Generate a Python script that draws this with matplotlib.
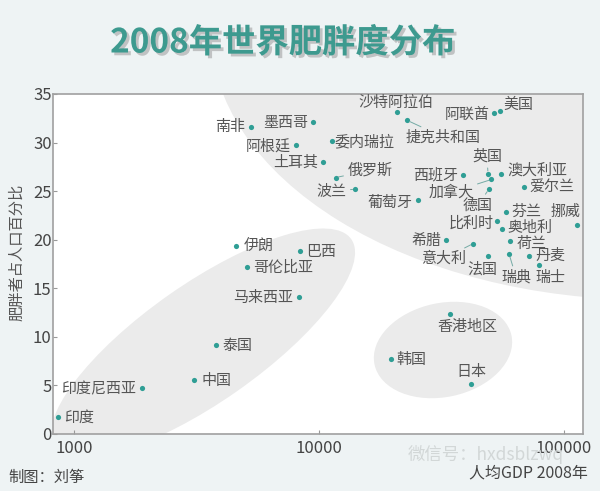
import matplotlib
matplotlib.use("Agg")
import matplotlib.pyplot as plt
import matplotlib.patheffects as pe
from matplotlib.patches import Ellipse
from matplotlib.transforms import Affine2D

plt.rcParams['font.family'] = ['Noto Sans CJK SC', 'DejaVu Sans']

# 1. Data
countries = ['南非', '墨西哥', '阿根廷', '委内瑞拉', '土耳其', '俄罗斯', '波兰',
             '沙特阿拉伯', '捷克共和国', '阿联酋', '美国', '西班牙', '英国', '澳大利亚',
             '加拿大', '德国', '爱尔兰', '葡萄牙', '芬兰', '挪威', '比利时', '奥地利',
             '希腊', '意大利', '荷兰', '法国', '瑞典', '丹麦', '瑞士',
             '伊朗', '巴西', '哥伦比亚', '马来西亚', '泰国', '中国', '印度尼西亚', '印度',
             '香港地区', '韩国', '日本']
gdp = [5300, 9500, 8100, 11300, 10400, 11700, 14100,
       20800, 22900, 51800, 54800, 38800, 49100, 55700,
       50700, 49500, 68700, 25400, 57900, 113700, 53600, 55900,
       33200, 42700, 60500, 49300, 59900, 72100, 79200,
       4600, 8400, 5100, 8300, 3800, 3100, 1900, 860,
       34300, 19800, 42000]
obesity = [31.6, 32.1, 29.7, 30.2, 28.0, 26.4, 25.2,
           33.1, 32.3, 33.0, 33.2, 26.7, 26.8, 26.8,
           26.2, 25.2, 25.4, 24.1, 22.9, 21.5, 21.9, 21.1,
           20.0, 19.6, 19.9, 18.3, 18.5, 18.3, 17.4,
           19.4, 18.8, 17.2, 14.1, 9.2, 5.6, 4.7, 1.8,
           12.4, 7.7, 5.1]

x_ticks = [1000, 10000, 100000]
y_ticks = [0, 5, 10, 15, 20, 25, 30, 35]

# label placement: (dx, dy) in pixels (dy downwards), alignment, leader line
r, l, c = 'right', 'left', 'center'
label_pos = {
    '南非': (-6, 0, r, False), '墨西哥': (-5, 1, r, False), '阿根廷': (-6, 1, r, False),
    '委内瑞拉': (3, 1, l, False), '土耳其': (-5, 1, r, False), '俄罗斯': (12, -7, l, True),
    '波兰': (-9, 2, r, True), '沙特阿拉伯': (-1, -10, c, False), '捷克共和国': (-1, 17, l, True),
    '阿联酋': (-4, 1, r, False), '美国': (4, -7, l, False), '西班牙': (-5, 1, r, False),
    '英国': (-1, -17, c, True), '澳大利亚': (6, -3, l, False), '加拿大': (-18, 13, r, True),
    '德国': (-11, 16, c, True), '爱尔兰': (6, 0, l, False), '葡萄牙': (-5, 3, r, False),
    '芬兰': (6, 0, l, False), '挪威': (-12, -13, c, False), '比利时': (-4, 2, r, False),
    '奥地利': (6, -1, l, False), '希腊': (-5, 1, r, False), '意大利': (-7, 15, r, True),
    '荷兰': (6, 3, l, False), '法国': (-6, 13, c, False), '瑞典': (7, 23, c, True),
    '丹麦': (7, 0, l, True), '瑞士': (12, 13, c, False),
    '伊朗': (7, 0, l, False), '巴西': (6, 1, l, False), '哥伦比亚': (6, 1, l, False),
    '马来西亚': (-6, 1, r, False), '泰国': (6, 1, l, False), '中国': (7, 1, l, False),
    '印度尼西亚': (-6, 1, r, False), '印度': (6, 1, l, False),
    '香港地区': (18, 13, c, False), '韩国': (5, 1, l, False), '日本': (0, -12, c, False),
}

# 2. Figure
fig = plt.figure(figsize=(6, 4.91), dpi=100, facecolor='#eef3f4')
ax = fig.add_axes([53 / 600, 57 / 491, 530 / 600, 340 / 491])
ax.set_facecolor('white')

# background groups (axes pixel frame)
tr = Affine2D().scale(1 / 530, 1 / 340) + ax.transAxes
for (cx, cy), w, h, ang in [((597, 404), 879, 540, 0),
                            ((150, 91), 362, 118, 35),
                            ((390, 84), 140, 94, 12)]:
    ax.add_patch(Ellipse((cx, cy), w, h, angle=ang, transform=tr,
                         facecolor='#ebebeb', edgecolor='none', zorder=0))

ax.scatter(gdp, obesity, s=14, color='#2f9e95', zorder=3, linewidths=0)

for name, x, y in zip(countries, gdp, obesity):
    dx, dy, ha, leader = label_pos[name]
    arrow = None
    if leader:
        arrow = dict(arrowstyle='-', color='#74aaa5', lw=0.7, shrinkA=1, shrinkB=2)
    ax.annotate(name, (x, y), xytext=(dx, -dy), textcoords='offset pixels',
                ha=ha, va='center', fontsize=10.8, color='#555555',
                arrowprops=arrow, zorder=4)

ax.set_xscale('log')
ax.set_xlim(820, 120000)
ax.set_ylim(0, 35)
ax.set_xticks(x_ticks)
ax.set_xticklabels([str(t) for t in x_ticks])
ax.xaxis.set_minor_locator(matplotlib.ticker.NullLocator())
ax.set_yticks(y_ticks)
ax.tick_params(direction='in', length=3, width=0.8, color='#999999',
               labelsize=12, labelcolor='#444444')
ax.tick_params(axis='y', pad=1)
ax.tick_params(axis='x', pad=4)
for s in ax.spines.values():
    s.set_color('#a0a0a0')
    s.set_linewidth(1.2)

# 3. Texts
fig.text(283 / 600, 1 - 43 / 491, '2008年世界肥胖度分布', ha='center', va='center',
         fontsize=24, fontweight='heavy', color='#3d9a8f',
         path_effects=[pe.SimplePatchShadow(offset=(2, -2), shadow_rgbFace='#888888', alpha=0.45),
                       pe.Normal()])
fig.text(17 / 600, 1 - 252 / 491, '肥胖者占人口百分比', rotation=90, ha='center', va='center',
         fontsize=11, color='#555555')
fig.text(408 / 600, 1 - 455 / 491, '微信号：hxdsblzwq', ha='left', va='center',
         fontsize=12.5, color='#d2d7d7', zorder=0)
fig.text(588 / 600, 1 - 473 / 491, '人均GDP 2008年', ha='right', va='center',
         fontsize=11.5, color='#444444')
fig.text(8 / 600, 1 - 477 / 491, '制图：刘筝', ha='left', va='center',
         fontsize=11, color='#444444')

fig.savefig('out.png', dpi=100, facecolor=fig.get_facecolor())
